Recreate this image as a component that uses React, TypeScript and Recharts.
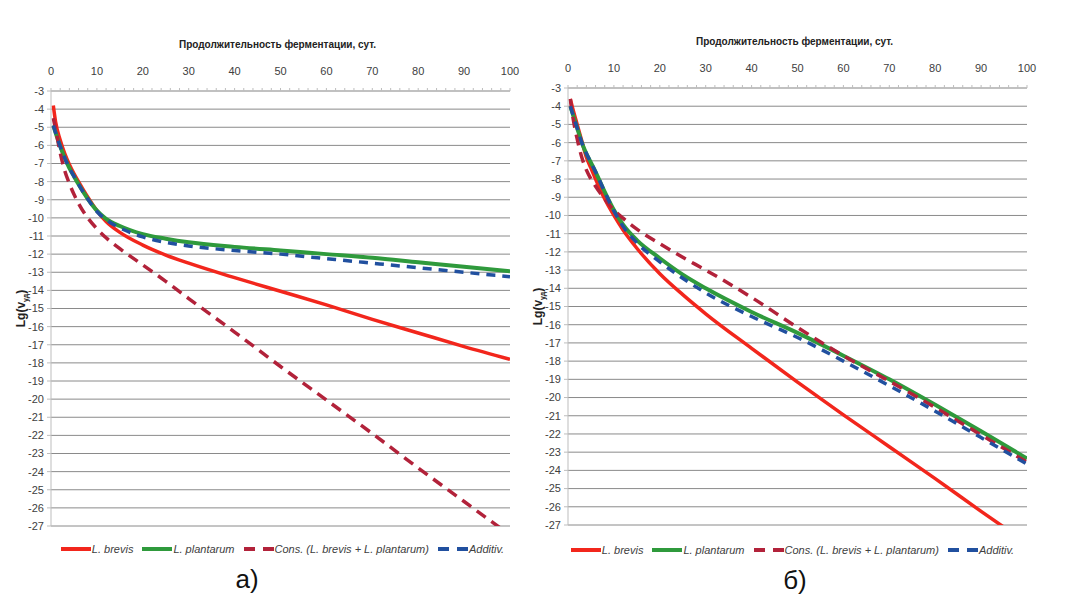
import { LineChart, Line, XAxis, YAxis, CartesianGrid, Legend } from "recharts";

// fermentation time, days
const days = [0.5, 1, 2, 3, 4, 5, 6, 8, 10, 12, 15, 20, 25, 30, 40, 50, 60, 70, 80, 90, 100];

// panel а)
const brevisA = [-3.8, -4.7, -5.7, -6.45, -7.05, -7.55, -8.0, -8.85, -9.6, -10.2, -10.8, -11.5, -12.05, -12.5, -13.3, -14.05, -14.8, -15.6, -16.35, -17.1, -17.8];
const plantarumA = [-4.9, -5.3, -6.05, -6.7, -7.25, -7.7, -8.15, -8.95, -9.6, -10.05, -10.45, -10.9, -11.15, -11.35, -11.6, -11.8, -12.0, -12.2, -12.45, -12.7, -12.95];
const consA = [-4.5, -5.1, -6.4, -7.4, -8.1, -8.7, -9.2, -10.0, -10.6, -11.1, -11.7, -12.6, -13.5, -14.45, -16.3, -18.2, -20.05, -21.9, -23.8, -25.65, -27.5];
const additivA = [-4.9, -5.3, -6.05, -6.7, -7.25, -7.7, -8.15, -8.95, -9.65, -10.1, -10.55, -11.05, -11.35, -11.55, -11.8, -12.0, -12.25, -12.5, -12.75, -13.0, -13.25];

// panel б)
const brevisB = [-3.6, -4.1, -5.0, -5.9, -6.8, -7.4, -8.0, -9.1, -10.0, -10.8, -11.8, -13.2, -14.35, -15.4, -17.3, -19.15, -20.95, -22.7, -24.45, -26.25, -28.0];
const plantarumB = [-4.0, -4.4, -5.2, -6.0, -6.6, -7.1, -7.6, -8.7, -9.7, -10.5, -11.35, -12.35, -13.25, -14.0, -15.3, -16.45, -17.7, -19.0, -20.4, -21.85, -23.35];
const consB = [-3.6, -4.5, -5.8, -6.8, -7.5, -8.0, -8.4, -9.1, -9.7, -10.15, -10.75, -11.55, -12.3, -13.0, -14.5, -16.15, -17.7, -19.1, -20.55, -22.05, -23.55];
const additivB = [-4.0, -4.4, -5.2, -6.0, -6.6, -7.1, -7.6, -8.7, -9.75, -10.6, -11.5, -12.55, -13.45, -14.25, -15.55, -16.7, -18.0, -19.35, -20.75, -22.2, -23.65];

const yTicks = [-3, -4, -5, -6, -7, -8, -9, -10, -11, -12, -13, -14, -15, -16, -17, -18, -19, -20, -21, -22, -23, -24, -25, -26, -27];
const xTicks = Array.from({ length: 51 }, (_, i) => i * 2);

const series = [
  { key: "brevis", name: "L. brevis", color: "#f2261c", width: 3.5, dash: undefined },
  { key: "plantarum", name: "L. plantarum", color: "#2f9a3c", width: 4, dash: undefined },
  { key: "cons", name: "Cons.  (L. brevis + L. plantarum)", color: "#b2223a", width: 3.5, dash: "11 7" },
  { key: "additiv", name: "Additiv.", color: "#21509f", width: 3.5, dash: "9 7" },
];

const narrow = "'Liberation Sans Narrow', 'Liberation Sans', sans-serif";

const buildTable = (b: number[], p: number[], c: number[], a: number[]) =>
  days.map((day, i) => ({ day, brevis: b[i], plantarum: p[i], cons: c[i], additiv: a[i] }));

const tableA = buildTable(brevisA, plantarumA, consA, additivA);
const tableB = buildTable(brevisB, plantarumB, consB, additivB);

const YLabel = (props: any) => {
  const vb = props.viewBox || {};
  const x = vb.x + 14;
  const y = vb.y + vb.height / 2;
  return (
    <text
      x={x}
      y={y}
      transform={`rotate(-90, ${x}, ${y})`}
      textAnchor="middle"
      fontFamily={narrow}
      fontWeight="bold"
      fontSize={12}
      fill="#222"
    >
      Lg(v
      <tspan dy={3} fontSize={7}>уд</tspan>
      <tspan dy={-3}>)</tspan>
    </text>
  );
};

const LegendBox = () => (
  <div
    style={{
      display: "flex",
      justifyContent: "center",
      alignItems: "center",
      gap: 9,
      fontFamily: narrow,
      fontStyle: "italic",
      fontSize: 11,
      color: "#404040",
    }}
  >
    {series.map((s) => (
      <div key={s.key} style={{ display: "flex", alignItems: "center" }}>
        <svg width={30} height={8}>
          <line x1={0} y1={4} x2={30} y2={4} stroke={s.color} strokeWidth={4} strokeDasharray={s.dash ? "11 8" : undefined} />
        </svg>
        <span style={{ marginLeft: 1 }}>{s.name}</span>
      </div>
    ))}
  </div>
);

type PanelProps = {
  data: any[];
  letter: string;
  left: number;
  top: number;
  marginBottom: number;
  legendTop: number;
  legendLeft: number;
  letterX: number;
  letterTop: number;
};

const Panel = ({ data, letter, left, top, marginBottom, legendTop, legendLeft, letterX, letterTop }: PanelProps) => (
  <div style={{ position: "absolute", left, top, width: 545, height: 602 }}>
    <div
      style={{
        position: "absolute",
        left: 0,
        width: 555,
        top: 39,
        textAlign: "center",
        fontFamily: narrow,
        fontWeight: "bold",
        fontSize: 10,
        color: "#222",
      }}
    >
      Продолжительность ферментации, сут.
    </div>
    <LineChart width={545} height={602} data={data} margin={{ top: 61, right: 35, bottom: marginBottom, left: 11 }}>
      <CartesianGrid vertical={false} stroke="#8a8a8a" />
      <XAxis
        type="number"
        dataKey="day"
        domain={[0, 100]}
        ticks={xTicks}
        interval={0}
        orientation="top"
        height={30}
        allowDataOverflow
        tickFormatter={(v: number) => (v % 10 === 0 ? String(v) : "")}
        tickSize={3}
        tickMargin={13}
        axisLine={{ stroke: "#bdbdbd" }}
        tickLine={{ stroke: "#bdbdbd" }}
        tick={{ fill: "#404040", fontSize: 11, fontFamily: narrow }}
      />
      <YAxis
        type="number"
        domain={[-27, -3]}
        ticks={yTicks}
        interval={0}
        allowDataOverflow
        width={40}
        tickSize={4}
        tickMargin={3}
        axisLine={{ stroke: "#bdbdbd" }}
        tickLine={{ stroke: "#bdbdbd" }}
        tick={{ fill: "#404040", fontSize: 11, fontFamily: narrow }}
        label={YLabel}
      />
      {series.map((s) => (
        <Line
          key={s.key}
          type="monotone"
          dataKey={s.key}
          name={s.name}
          stroke={s.color}
          strokeWidth={s.width}
          strokeDasharray={s.dash}
          dot={false}
          isAnimationActive={false}
        />
      ))}
      <Legend
        layout="horizontal"
        verticalAlign="middle"
        align="center"
        wrapperStyle={{ top: legendTop, left: legendLeft, width: 545, height: 16 }}
        content={LegendBox}
      />
    </LineChart>
    <div
      style={{
        position: "absolute",
        left: letterX - 50,
        width: 100,
        top: letterTop,
        textAlign: "center",
        fontFamily: "'Liberation Sans', sans-serif",
        fontSize: 26,
        color: "#111",
      }}
    >
      {letter}
    </div>
  </div>
);

export default function App() {
  return (
    <div style={{ position: "absolute", left: 0, top: 0, width: 1081, height: 602, background: "#fff", overflow: "hidden" }}>
      <Panel data={tableA} letter="а)" left={0} top={0} marginBottom={76} legendTop={543} legendLeft={10} letterX={247} letterTop={564} />
      <Panel data={tableB} letter="б)" left={517} top={-3} marginBottom={74} legendTop={547} legendLeft={3} letterX={278} letterTop={568} />
    </div>
  );
}
